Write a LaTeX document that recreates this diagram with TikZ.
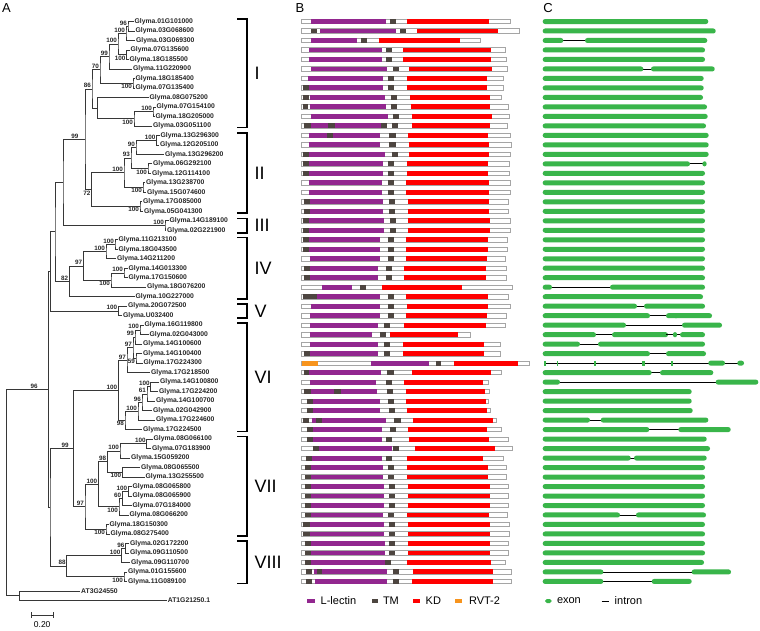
\documentclass[tikz,border=0pt]{standalone}
\usepackage{fontspec}
\setmainfont{Liberation Sans}
\usetikzlibrary{calc}
\definecolor{lectin}{RGB}{146,39,143}
\definecolor{tmcol}{RGB}{77,69,64}
\definecolor{kdcol}{RGB}{255,0,0}
\definecolor{rvtcol}{RGB}{247,148,29}
\definecolor{exoncol}{RGB}{57,181,74}
\definecolor{barline}{RGB}{165,165,165}
\definecolor{treecol}{RGB}{55,55,55}
\tikzset{
  tree/.style={draw=treecol,line width=0.75pt},
  glab/.style={anchor=west,inner sep=1pt,font=\fontsize{6.8}{7}\selectfont\bfseries,text=black!85},
  bs/.style={inner sep=0.5pt,font=\fontsize{6.3}{6.5}\selectfont\bfseries,text=black!85},
  brk/.style={draw=black,line width=1.1pt},
  clab/.style={anchor=west,inner sep=0pt,font=\fontsize{18}{18}\selectfont},
  plab/.style={inner sep=0pt,font=\fontsize{13}{13}\selectfont},
  leg/.style={anchor=west,inner sep=0pt,font=\fontsize{11}{11}\selectfont},
  pbar/.style={draw=barline,fill=white,line width=0.7pt},
  intron/.style={draw=black,line width=0.8pt}
}
\newcommand\leaf[3]{\coordinate (l#1) at (#2,{21.5+9.49*#1}); \node[glab] (t#1) at (l#1) {#3};}
\newcommand\tn[4]{\path let \p1=(#3),\p2=(#4) in (#2,{0.5*(\y1+\y2)}) coordinate (#1); \draw[tree] (#3) -| (#1) |- (#4);}
\newcommand\bsA[2]{\node[bs,anchor=south east] (bs#1) at ([xshift=-0.4pt,yshift=0.3pt]#1) {#2};}
\newcommand\bsB[2]{\node[bs,anchor=north east] (bs#1) at ([xshift=-0.4pt,yshift=-0.3pt]#1) {#2};}
\newcommand\clade[4]{\draw[brk] (237,#2) -- (247,#2) -- (247,#3) -- (237,#3); \node[clab] (#1) at (254.5,{(#2+#3)/2}) {#4};}
\newcommand\B[3]{\begin{scope}[shift={(0,{21.5+9.49*#1})}]\draw[pbar] (301.7,-2.2) rectangle (#2,2.2); #3\end{scope}}
\newcommand\LL[2]{\fill[lectin] (#1,-2.45) rectangle (#2,2.45);}
\newcommand\TM[2]{\fill[tmcol] (#1,-2.45) rectangle (#2,2.45);}
\newcommand\KD[2]{\fill[kdcol] (#1,-2.45) rectangle (#2,2.45);}
\newcommand\RV[2]{\fill[rvtcol] (#1,-2.45) rectangle (#2,2.45);}
\newcommand\C[2]{\begin{scope}[shift={(0,{21.5+9.49*#1})}]#2\end{scope}}
\newcommand\EX[2]{\fill[exoncol,rounded corners=2.4pt] (#1,-2.5) rectangle (#2,2.5);}
\newcommand\EXs[2]{\fill[exoncol] (#1,-2.5) rectangle (#2,2.5);}
\newcommand\EXd[1]{\fill[exoncol] (#1,0) ellipse (2.2pt and 2.6pt);}
\newcommand\IN[2]{\draw[intron] (#1,0) -- (#2,0);}
\begin{document}
\begin{tikzpicture}[x=1pt,y=-1pt]
\useasboundingbox (0,0) rectangle (760,630);
\fill[white] (0,0) rectangle (760,630);
% panel letters
\node[plab] (pA) at (6.5,8.5) {A};
\node[plab] (pB) at (300,8.5) {B};
\node[plab] (pC) at (548,8.5) {C};
% ---------- leaves ----------
\leaf{0}{133.5}{Glyma.01G101000}
\leaf{1}{134.5}{Glyma.03G068600}
\leaf{2}{135}{Glyma.03G069300}
\leaf{3}{129.5}{Glyma.07G135600}
\leaf{4}{128.5}{Glyma.18G185500}
\leaf{5}{132}{Glyma.11G220900}
\leaf{6}{134.5}{Glyma.18G185400}
\leaf{7}{134.5}{Glyma.07G135400}
\leaf{8}{148.5}{Glyma.08G075200}
\leaf{9}{155.5}{Glyma.07G154100}
\leaf{10}{154.5}{Glyma.18G205000}
\leaf{11}{152}{Glyma.03G051100}
\leaf{12}{159.5}{Glyma.13G296300}
\leaf{13}{159}{Glyma.12G205100}
\leaf{14}{164}{Glyma.13G296200}
\leaf{15}{152}{Glyma.06G292100}
\leaf{16}{151}{Glyma.12G114100}
\leaf{17}{145}{Glyma.13G238700}
\leaf{18}{146}{Glyma.15G074600}
\leaf{19}{142}{Glyma.17G085000}
\leaf{20}{143}{Glyma.05G041300}
\leaf{21}{168.5}{Glyma.14G189100}
\leaf{22}{166}{Glyma.02G221900}
\leaf{23}{117.5}{Glyma.11G213100}
\leaf{24}{117.5}{Glyma.18G043500}
\leaf{25}{116}{Glyma.14G211200}
\leaf{26}{127.5}{Glyma.14G013300}
\leaf{27}{127.5}{Glyma.17G150600}
\leaf{28}{146}{Glyma.18G076200}
\leaf{29}{134.5}{Glyma.10G227000}
\leaf{30}{127}{Glyma.20G072500}
\leaf{31}{122}{Glyma.U032400}
\leaf{32}{143.5}{Glyma.16G119800}
\leaf{33}{148.5}{Glyma.02G043000}
\leaf{34}{142}{Glyma.14G100600}
\leaf{35}{142}{Glyma.14G100400}
\leaf{36}{142.5}{Glyma.17G224300}
\leaf{37}{150}{Glyma.17G218500}
\leaf{38}{159}{Glyma.14G100800}
\leaf{39}{158}{Glyma.17G224200}
\leaf{40}{155}{Glyma.14G100700}
\leaf{41}{152}{Glyma.02G042900}
\leaf{42}{155}{Glyma.17G224600}
\leaf{43}{142}{Glyma.17G224500}
\leaf{44}{152.5}{Glyma.08G066100}
\leaf{45}{151}{Glyma.07G183900}
\leaf{46}{130}{Glyma.15G059200}
\leaf{47}{140}{Glyma.08G065500}
\leaf{48}{144.5}{Glyma.13G255500}
\leaf{49}{131.5}{Glyma.08G065800}
\leaf{50}{131.5}{Glyma.08G065900}
\leaf{51}{131.5}{Glyma.07G184000}
\leaf{52}{128.5}{Glyma.08G066200}
\leaf{53}{108.5}{Glyma.18G150300}
\leaf{54}{109.5}{Glyma.08G275400}
\leaf{55}{129}{Glyma.02G172200}
\leaf{56}{129}{Glyma.09G110500}
\leaf{57}{130}{Glyma.09G110700}
\leaf{58}{127}{Glyma.01G155600}
\leaf{59}{127}{Glyma.11G089100}
\leaf{60}{80}{AT3G24550}
\leaf{61}{166.7}{AT1G21250.1}
% ---------- internal nodes ----------
\tn{a1}{128}{l0}{l1}\bsA{a1}{96}
\tn{a2}{126}{a1}{l2}\bsA{a2}{100}
\tn{a3}{126.5}{l3}{l4}\bsB{a3}{100}
\tn{a4}{118}{a2}{a3}\bsA{a4}{100}
\tn{a5}{109}{a4}{l5}\bsA{a5}{99}
\tn{a6}{133}{l6}{l7}\bsB{a6}{100}
\tn{a7}{100}{a5}{a6}\bsA{a7}{70}
\tn{a8}{153}{l9}{l10}\bsA{a8}{100}
\tn{a9}{134}{a8}{l11}\bsB{a9}{100}
\tn{a10}{97.7}{l8}{a9}
\tn{a11}{92}{a7}{a10}\bsA{a11}{86}
\tn{b1}{156.5}{l12}{l13}\bsA{b1}{100}
\tn{b2}{136}{b1}{l14}\bsA{b2}{90}
\tn{b3}{148}{l15}{l16}\bsB{b3}{100}
\tn{b4}{131}{b2}{b3}\bsA{b4}{93}
\tn{b5}{143}{l17}{l18}\bsB{b5}{100}
\tn{b6}{124}{b4}{b5}\bsA{b6}{100}
\tn{b7}{140}{l19}{l20}\bsB{b7}{100}
\tn{b8}{91.5}{b6}{b7}\bsB{b8}{72}
\tn{c1}{85}{a11}{b8}
\node[bs,anchor=south east] (bsc1) at ([xshift=-6pt,yshift=0.3pt]c1) {99};
\tn{d1}{165}{l21}{l22}\bsA{d1}{100}
\tn{c2}{63}{c1}{d1}
\tn{e1}{115}{l23}{l24}\bsA{e1}{100}
\tn{e2}{106}{e1}{l25}\bsA{e2}{100}
\tn{e3}{124}{l26}{l27}\bsA{e3}{100}
\tn{e4}{111}{e3}{l28}\bsB{e4}{100}
\tn{e5}{83.3}{e2}{e4}\bsA{e5}{97}
\tn{e6}{69.3}{e5}{l29}\bsA{e6}{82}
\tn{c3}{55}{c2}{e6}
\tn{f1}{118.3}{l30}{l31}\bsA{f1}{100}
\tn{c4}{50.7}{c3}{f1}
\tn{g1}{140}{l32}{l33}\bsA{g1}{100}
\tn{g2}{135}{g1}{l34}\bsA{g2}{99}
\tn{g4}{136}{l35}{l36}\bsB{g4}{59}
\tn{g3}{133}{g2}{g4}\bsA{g3}{97}
\tn{g5}{127}{g3}{l37}\bsA{g5}{97}
\tn{g6}{150.7}{l38}{l39}\bsA{g6}{100}
\tn{g7}{147}{g6}{l40}\bsA{g7}{61}
\tn{g8}{142}{g7}{l41}\bsA{g8}{96}
\tn{g9}{138}{g8}{l42}\bsA{g9}{100}
\tn{g10}{125}{g9}{l43}\bsB{g10}{98}
\tn{g11}{118.3}{g5}{g10}\bsA{g11}{100}
\tn{i1}{146.7}{l44}{l45}\bsA{i1}{100}
\tn{i2}{120}{i1}{l46}\bsA{i2}{100}
\tn{i3}{122.3}{l47}{l48}\bsB{i3}{100}
\tn{i4}{107.3}{i2}{i3}\bsA{i4}{98}
\tn{i5}{128.3}{l49}{l50}\bsA{i5}{100}
\tn{i6}{122.3}{i5}{l51}\bsA{i6}{60}
\tn{i7}{119}{i6}{l52}\bsB{i7}{100}
\tn{i8}{98.3}{i4}{i7}\bsA{i8}{100}
\tn{i9}{106}{l53}{l54}\bsB{i9}{100}
\tn{i10}{85}{i8}{i9}\bsA{i10}{97}
\tn{h}{73.3}{g11}{i10}
\node[bs,anchor=south east] (bsh) at ([xshift=-4pt,yshift=0.3pt]h) {99};
\tn{j1}{125.5}{l55}{l56}\bsA{j1}{96}
\tn{j2}{121.5}{j1}{l57}\bsA{j2}{100}
\tn{j3}{124}{l58}{l59}\bsB{j3}{100}
\tn{j4}{66.7}{j2}{j3}\bsA{j4}{88}
\tn{jj}{50}{h}{j4}
\tn{k}{48.3}{c4}{jj}
\node[bs,anchor=south east] (bsk) at ([xshift=-10pt,yshift=0.3pt]k) {96};
\tn{m}{19.3}{l60}{l61}
\tn{root}{6.7}{k}{m}
% scale bar
\coordinate (sb1) at (31,615); \coordinate (sb2) at (53.3,615);
\draw[tree] (sb1) -- (sb2);
\draw[tree] ([yshift=3pt]sb1) -- ([yshift=-3pt]sb1);
\draw[tree] ([yshift=3pt]sb2) -- ([yshift=-3pt]sb2);
\node[inner sep=0pt,font=\fontsize{8.5}{8.5}\selectfont] (sbt) at (42.2,625) {0.20};
% ---------- clade brackets ----------
\clade{cI}{19}{127.5}{I}
\clade{cII}{133}{213}{II}
\clade{cIII}{218.5}{233}{III}
\clade{cIV}{237.5}{299}{IV}
\clade{cV}{304}{318}{V}
\clade{cVI}{323}{431.5}{VI}
\clade{cVII}{436.5}{536}{VII}
\clade{cVIII}{541}{583.5}{VIII}
% ---------- panel B ----------
\B{0}{510}{\LL{311}{386}\TM{390}{396}\KD{406.7}{489}}
\B{1}{519.3}{\TM{310.7}{317.3}\LL{320}{396}\TM{400}{406}\KD{416.7}{498.3}}
\B{2}{480.7}{\LL{311}{357.3}\TM{361}{367.3}\KD{379.3}{460}}
\B{3}{505.7}{\LL{309}{382.3}\TM{386}{392.3}\KD{402.7}{491.3}}
\B{4}{506}{\LL{309}{382.3}\TM{386}{392.3}\KD{402.7}{491.3}}
\B{5}{507.3}{\LL{311}{387.3}\TM{392.7}{398.7}\KD{409.3}{492}}
\B{6}{503.7}{\LL{308.3}{383.3}\TM{388.3}{394.3}\KD{406.7}{487.3}}
\B{7}{503.7}{\TM{303.3}{309.3}\LL{309.3}{383.3}\TM{388.3}{394.3}\KD{406.7}{487.3}}
\B{8}{501.3}{\TM{303.3}{309.3}\LL{310}{385}\TM{391}{397}\KD{410}{490}}
\B{9}{508.3}{\TM{303.3}{308.3}\LL{310}{386}\TM{391}{397.3}\KD{410.7}{490}}
\B{10}{509}{\LL{311}{388.3}\TM{393.3}{399.3}\KD{412.3}{492}}
\B{11}{507.3}{\TM{304}{310.7}\LL{310.7}{381.7}\TM{328.3}{335}\TM{381}{387.3}\TM{392.3}{398.3}\KD{411.7}{490}}
\B{12}{510.7}{\LL{309}{380}\TM{326.7}{333.3}\TM{389.3}{396}\KD{408.3}{488}}
\B{13}{511.3}{\LL{309}{380}\TM{389.3}{396}\KD{409.3}{488.7}}
\B{14}{510.7}{\TM{302.7}{309.3}\LL{309.3}{385}\TM{391.7}{398}\KD{409.3}{489.3}}
\B{15}{509}{\TM{303}{309}\LL{309}{383}\TM{388}{394}\KD{407}{488}}
\B{16}{509}{\TM{303}{309}\LL{309}{383}\TM{388}{394}\KD{407}{488}}
\B{17}{510}{\LL{309}{382}\TM{388}{394}\KD{406}{489}}
\B{18}{510}{\LL{309}{382}\TM{388}{394}\KD{406}{489}}
\B{19}{508}{\TM{304}{310}\LL{310}{383}\TM{389}{395}\KD{408}{489}}
\B{20}{508}{\TM{304}{310}\LL{310}{383}\TM{389}{395}\KD{408}{489}}
\B{21}{510}{\TM{303}{309}\LL{309}{384}\TM{390}{396}\KD{408}{490}}
\B{22}{510}{\TM{303}{309}\LL{309}{384}\TM{390}{396}\KD{408}{490}}
\B{23}{507}{\TM{303}{309}\LL{309}{380}\TM{388}{394}\KD{406}{488}}
\B{24}{507}{\TM{303}{309}\LL{309}{380}\TM{388}{394}\KD{406}{488}}
\B{25}{505}{\LL{310}{380}\TM{388}{394}\KD{406}{487}}
\B{26}{506}{\TM{304}{310}\LL{310}{378}\TM{386}{392}\KD{404}{486}}
\B{27}{506}{\TM{304}{310}\LL{310}{378}\TM{386}{392}\KD{404}{486}}
\B{28}{512}{\LL{322}{352}\TM{360}{366}\KD{382}{462}}
\B{29}{508}{\TM{302.7}{317}\LL{317}{380}\TM{388}{394}\KD{406}{488}}
\B{30}{510}{\LL{311}{380}\TM{388}{394}\KD{407}{488}}
\B{31}{506}{\LL{310}{380}\TM{388}{394}\KD{406}{487}}
\B{32}{505}{\LL{310}{378}\TM{384}{390}\KD{404}{486}}
\B{33}{470}{\LL{310}{372}\TM{380}{386}\KD{390}{458}}
\B{34}{500}{\LL{310}{378}\TM{384}{390}\KD{403}{484}}
\B{35}{500}{\TM{304}{310}\LL{310}{378}\TM{384}{390}\KD{403}{484}}
\B{36}{529.3}{\RV{301.7}{317.7}\LL{371}{429}\TM{436}{441}\KD{454.3}{518.3}}
\B{37}{501.7}{\TM{304}{309.3}\LL{309.3}{381}\TM{386.7}{394}\KD{411.7}{490.7}}
\B{38}{488.3}{\LL{310}{376}\TM{386}{392.3}\KD{404}{483.3}}
\B{39}{489}{\TM{304}{310.7}\LL{310.7}{376.7}\TM{334}{340.7}\TM{386.7}{393}\KD{405.7}{485.3}}
\B{40}{488.3}{\TM{306.7}{312.7}\LL{312.7}{380}\TM{387.7}{394}\KD{405.7}{485.7}}
\B{41}{490}{\TM{306.7}{312.7}\LL{312.7}{380}\TM{389}{395.3}\KD{407.3}{486.7}}
\B{42}{496}{\TM{303.3}{309.3}\LL{311.7}{386}\TM{316}{322.3}\TM{394.3}{401}\KD{413.3}{493.3}}
\B{43}{501.3}{\TM{306.7}{312.7}\LL{312.7}{381.7}\TM{390}{396}\KD{408.3}{487.3}}
\B{44}{508.3}{\TM{306.7}{312.7}\LL{312.7}{382.3}\TM{385.7}{392}\KD{409}{488.7}}
\B{45}{512.7}{\TM{313.3}{319.3}\LL{319.3}{391.7}\TM{393.3}{399.3}\KD{415}{494.7}}
\B{46}{503.3}{\TM{306}{312}\LL{312}{382.3}\TM{386}{392}\KD{407.3}{482.7}}
\B{47}{506}{\TM{305}{311}\LL{311}{383}\TM{388}{394}\KD{407}{488}}
\B{48}{506}{\TM{305}{311}\LL{311}{383}\TM{388}{394}\KD{407}{488}}
\B{49}{508}{\TM{305}{311}\LL{311}{384}\TM{389}{395}\KD{408}{490}}
\B{50}{508}{\TM{305}{311}\LL{311}{384}\TM{389}{395}\KD{408}{490}}
\B{51}{508}{\TM{305}{311}\LL{311}{384}\TM{389}{395}\KD{408}{490}}
\B{52}{507}{\TM{305}{311}\LL{311}{383}\TM{388}{394}\KD{407}{489}}
\B{53}{509}{\TM{303}{310}\LL{310}{384}\TM{389}{395}\KD{408}{490}}
\B{54}{509}{\TM{303}{310}\LL{310}{384}\TM{389}{395}\KD{408}{490}}
\B{55}{508}{\TM{305}{311}\LL{311}{385}\TM{389}{395}\KD{408}{490}}
\B{56}{508}{\TM{305}{311}\LL{311}{385}\TM{389}{395}\KD{408}{490}}
\B{57}{505}{\TM{305}{311}\LL{311}{385}\TM{385}{391}\KD{406.7}{491}}
\B{58}{511.7}{\TM{306}{312}\LL{314}{386.7}\TM{316.7}{322.3}\TM{392.7}{398.7}\KD{412.7}{493.3}}
\B{59}{511}{\TM{306}{312}\LL{315}{386.7}\TM{392.7}{398.7}\KD{412}{492.7}}
% legend B
\fill[lectin] (306.7,599) rectangle (315,603); \node[leg] (lgLL) at (320.5,601) {L-lectin};
\fill[tmcol] (371.7,599) rectangle (378.3,603); \node[leg] (lgTM) at (382.8,601) {TM};
\fill[kdcol] (412.7,599) rectangle (420,603); \node[leg] (lgKD) at (425.5,601) {KD};
\fill[rvtcol] (455,599) rectangle (461.7,603); \node[leg] (lgRV) at (468.8,601) {RVT-2};
% ---------- panel C ----------
\C{0}{\EX{542.7}{708.3}}
\C{1}{\EX{542.7}{715.7}}
\C{2}{\IN{562}{586}\EX{542.7}{563.3}\EX{585}{707.3}}
\C{3}{\EX{542.7}{705}}
\C{4}{\EX{542.7}{705}}
\C{5}{\IN{642}{652}\EX{542.7}{643.3}\EX{651}{714.7}}
\C{6}{\EX{542.7}{703.7}}
\C{7}{\EX{542.7}{703.7}}
\C{8}{\EX{542.7}{703}}
\C{9}{\EX{542.7}{707}}
\C{10}{\EX{542.7}{707.7}}
\C{11}{\EX{542.7}{706}}
\C{12}{\EX{542.7}{708.7}}
\C{13}{\EX{542.7}{708.7}}
\C{14}{\EX{542.7}{708.7}}
\C{15}{\IN{688}{704}\EX{542.7}{690}\EXd{704.5}}
\foreach \r in {16,...,27}{\C{\r}{\EX{542.7}{705}}}
\C{28}{\IN{550}{612}\EX{542.7}{552}\EX{610}{705}}
\C{29}{\EX{542.7}{703}}
\C{30}{\IN{636}{645}\EX{542.7}{637}\EX{644}{705}}
\C{31}{\IN{648}{668}\EX{542.7}{650}\EXd{676}\EX{666}{712}}
\C{32}{\IN{624}{684}\EX{542.7}{626}\EX{682}{722}}
\C{33}{\IN{594}{614}\EX{542.7}{596}\EX{612}{668}\IN{666}{682}\EXd{675}\EX{680}{705}}
\C{34}{\IN{578}{600}\EX{542.7}{580}\EX{598}{705}}
\C{35}{\IN{648}{668}\EX{542.7}{650}\EX{666}{706}}
\C{36}{\IN{544}{743.3}\EXs{543.5}{545.5}\EXs{557}{558}\EXs{594}{596}\EXs{641.5}{644.5}\EXs{670.5}{673}\EX{708.3}{725}\EX{737.3}{744}}
\C{37}{\IN{650}{661}\EX{542.7}{651.7}\EX{660}{713.3}}
\C{38}{\IN{559}{717}\EX{542.7}{560}\EX{715.7}{758.3}}
\C{39}{\EX{542.7}{691.7}}
\C{40}{\EX{542.7}{691.7}}
\C{41}{\EX{542.7}{692.7}}
\C{42}{\IN{589}{602}\EX{542.7}{590}\EX{600.7}{708.3}}
\C{43}{\IN{648}{679}\EX{542.7}{649.3}\EX{678.3}{730.7}}
\C{44}{\EX{542.7}{706.7}}
\C{45}{\EX{542.7}{710}}
\C{46}{\IN{629}{635}\EX{542.7}{630.7}\EX{634}{706.7}}
\foreach \r in {47,...,51}{\C{\r}{\EX{542.7}{705}}}
\C{52}{\IN{618}{638}\EX{542.7}{620}\EX{636}{706}}
\foreach \r in {53,...,56}{\C{\r}{\EX{542.7}{705}}}
\C{57}{\EX{542.7}{704}}
\C{58}{\IN{602}{693}\EX{542.7}{603.3}\EX{691.7}{731}}
\C{59}{\IN{602}{653}\EX{542.7}{603.3}\EX{651.7}{691.7}}
% legend C
\fill[exoncol,rounded corners=1.8pt] (545,599) rectangle (551.7,603); \node[leg] (lgEX) at (556.8,601) {exon};
\draw[intron] (601.7,601) -- (609.3,601); \node[leg] (lgIN) at (614.5,601) {intron};
\end{tikzpicture}
\end{document}
